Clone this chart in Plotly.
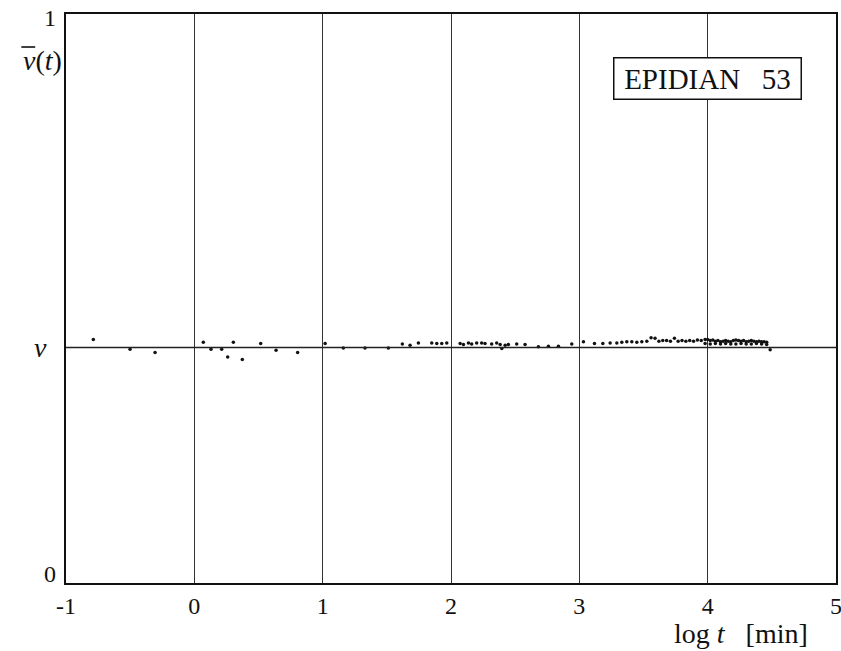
import plotly.graph_objects as go

# ---- data ----
nu_level = 0.414

log_t = [
    -0.787, -0.501, -0.306, 0.070, 0.130, 0.213, 0.260, 0.304, 0.374, 0.517, 0.637, 0.805, 1.019,
    1.161, 1.330, 1.512, 1.621, 1.681, 1.746, 1.850, 1.889, 1.928, 1.967, 2.071, 2.097, 2.136,
    2.161, 2.200, 2.239, 2.265, 2.317, 2.356, 2.383, 2.396, 2.422, 2.447, 2.512, 2.577, 2.681,
    2.759, 2.837, 2.941,
    3.032, 3.118, 3.183, 3.240, 3.292, 3.331, 3.370, 3.409, 3.448, 3.487, 3.526, 3.559, 3.590,
    3.620, 3.650, 3.680, 3.710, 3.741, 3.770, 3.800, 3.830, 3.860, 3.890, 3.920, 3.950, 3.980,
    4.000, 4.020, 4.040, 4.060, 4.080, 4.100, 4.120, 4.140, 4.160, 4.180, 4.200, 4.220, 4.240,
    4.260, 4.280, 4.300, 4.320, 4.340, 4.360, 4.380, 4.400, 4.420, 4.440, 4.460, 4.487,
    3.980, 4.020, 4.060, 4.100, 4.140, 4.180, 4.220, 4.260, 4.300, 4.340, 4.380, 4.420, 4.460,
]
nu_bar = [
    0.428, 0.411, 0.405, 0.423, 0.411, 0.411, 0.397, 0.423, 0.393, 0.421, 0.409, 0.405, 0.421,
    0.413, 0.413, 0.413, 0.420, 0.418, 0.422, 0.422, 0.421, 0.421, 0.422, 0.421, 0.419, 0.422,
    0.420, 0.422, 0.422, 0.421, 0.420, 0.422, 0.419, 0.412, 0.418, 0.419, 0.420, 0.419, 0.415,
    0.416, 0.416, 0.420,
    0.424, 0.421, 0.421, 0.422, 0.422, 0.423, 0.424, 0.424, 0.423, 0.424, 0.425, 0.431, 0.430,
    0.425, 0.426, 0.426, 0.425, 0.430, 0.425, 0.426, 0.425, 0.426, 0.425, 0.427, 0.426, 0.428,
    0.428, 0.426, 0.427, 0.425, 0.426, 0.424, 0.425, 0.426, 0.425, 0.424, 0.426, 0.427, 0.426,
    0.425, 0.426, 0.424, 0.425, 0.426, 0.425, 0.424, 0.425, 0.424, 0.424, 0.423, 0.410,
    0.421, 0.420, 0.421, 0.420, 0.421, 0.420, 0.420, 0.421, 0.420, 0.420, 0.421, 0.420, 0.419,
]

x_ticks = [-1, 0, 1, 2, 3, 4, 5]
x_tick_text = ["-1", "0", "1", "2", "3", "4", "5"]
label_text = "EPIDIAN\u00a0\u00a0\u00a053"

SERIF = "Liberation Serif"

fig = go.Figure()
fig.add_trace(go.Scatter(
    x=log_t, y=nu_bar, mode="markers",
    marker=dict(color="#111", size=3.5, line=dict(width=0)),
    hoverinfo="skip", showlegend=False,
))

fig.add_shape(type="line", xref="paper", yref="y", x0=0, x1=1, y0=nu_level, y1=nu_level,
              line=dict(color="#222", width=1.4))
# overline of the nu-bar symbol
fig.add_shape(type="line", xref="paper", yref="paper", x0=-0.058, x1=-0.040, y0=0.942, y1=0.942,
              line=dict(color="#111", width=1.6))

fig.update_layout(
    width=841, height=651,
    margin=dict(l=66, r=5, t=14, b=68, autoexpand=False),
    paper_bgcolor="white", plot_bgcolor="white",
    font=dict(family=SERIF, color="#111", size=23),
    xaxis=dict(
        range=[-1, 5], tickvals=x_ticks, ticktext=x_tick_text,
        showgrid=True, gridcolor="#333", gridwidth=1.2,
        showline=True, linecolor="#111", linewidth=2, mirror=True,
        ticks="", zeroline=False, automargin=False, ticklabeloverflow="allow",
        tickfont=dict(family=SERIF, size=24, color="#111"),
    ),
    yaxis=dict(
        range=[0, 1], showgrid=False, showticklabels=False,
        showline=True, linecolor="#111", linewidth=2, mirror=True,
        ticks="", zeroline=False, automargin=False,
    ),
    annotations=[
        dict(xref="paper", yref="paper", x=-0.010, y=0.993, text="1", showarrow=False,
             xanchor="right", yanchor="middle", font=dict(size=24)),
        dict(xref="paper", yref="paper", x=-0.010, y=0.015, text="0", showarrow=False,
             xanchor="right", yanchor="middle", font=dict(size=24)),
        dict(xref="paper", yref="y", x=-0.022, y=nu_level, text="<i>ν</i>", showarrow=False,
             xanchor="right", yanchor="middle", font=dict(size=28)),
        dict(xref="paper", yref="paper", x=-0.003, y=0.918, text="<i>ν</i>(<i>t</i>)",
             showarrow=False, xanchor="right", yanchor="middle", font=dict(size=28)),
        dict(xref="x", yref="paper", x=4.256, y=-0.088, text="log\u00a0<i>t</i>\u00a0\u00a0\u00a0[min]",
             showarrow=False, xanchor="center", yanchor="middle", font=dict(size=28)),
        dict(xref="x", yref="paper", x=3.998, y=0.886, text=label_text, showarrow=False,
             xanchor="center", yanchor="middle", font=dict(size=29), width=178,
             bordercolor="#111", borderwidth=1.5, borderpad=4, bgcolor="white"),
    ],
)

fig.write_html("out.html")
